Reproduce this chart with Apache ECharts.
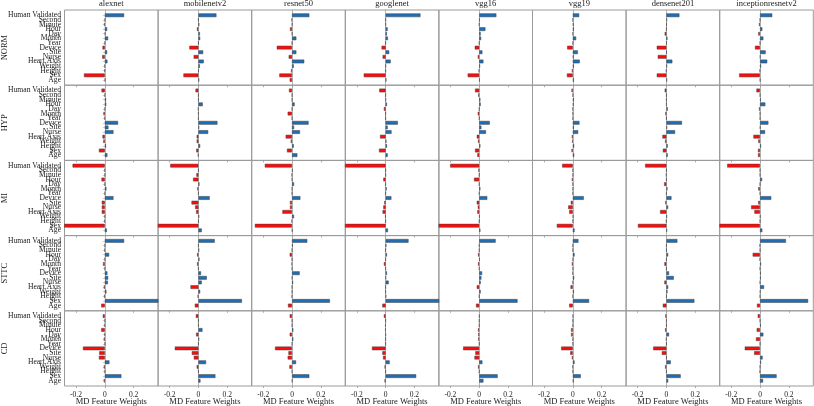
<!DOCTYPE html>
<html>
<head>
<meta charset="utf-8">
<script src="https://cdn.jsdelivr.net/npm/echarts@6/dist/echarts.min.js"></script>
<style>
	html, body { margin: 0; padding: 0; background: #fff; }
	#chart { width: 814px; height: 406px; }
</style>
</head>
<body>
<div id="chart"></div>
<script>
// feature names, top to bottom
const features = ['Human Validated', 'Second', 'Minute', 'Hour', 'Day', 'Month', 'Year', 'Device', 'Site', 'Nurse', 'Heart Axis', 'Weight', 'Height', 'Sex', 'Age'];
const models = ['alexnet', 'mobilenetv2', 'resnet50', 'googlenet', 'vgg16', 'vgg19', 'densenet201', 'inceptionresnetv2'];
const classes = ['NORM', 'HYP', 'MI', 'STTC', 'CD'];
const tickValues = [-0.2, 0, 0.2];

// one array per model, in the order of "models"
const normWeights = [
	[0.134, 0.001, -0.005, 0.016, 0.003, 0.023, 0, -0.016, 0.016, -0.018, 0.018, -0.002, -0.003, -0.145, 0.002],
	[0.125, 0, 0.006, -0.010, 0.010, 0.012, 0, -0.063, 0.033, -0.033, 0.037, 0.010, 0.001, -0.104, 0.005],
	[0.120, -0.003, 0.001, -0.014, 0.001, 0.030, 0, -0.106, 0.030, -0.023, 0.085, 0.012, -0.007, -0.088, -0.016],
	[0.242, 0.001, 0.001, 0.014, 0.009, 0.016, 0, -0.028, 0.025, -0.021, 0.035, 0.001, 0, -0.152, 0.005],
	[0.119, 0.003, 0, 0.043, 0.010, 0.013, 0, -0.031, 0.022, -0.010, 0.029, 0.006, -0.003, -0.080, 0.003],
	[0.044, 0, 0.005, 0.007, 0, 0.023, 0, -0.039, 0.035, 0.005, 0.048, 0.007, -0.007, -0.041, 0.007],
	[0.090, 0.004, 0.001, 0, -0.012, 0.007, 0, -0.067, 0.001, -0.060, 0.041, 0.004, -0.002, -0.067, 0.004],
	[0.085, 0, -0.007, 0.016, -0.012, 0.023, 0, -0.035, 0.039, 0.002, 0.050, 0.007, -0.002, -0.145, 0.001]
];
const hypWeights = [
	[-0.023, 0, 0.008, 0.010, 0, -0.009, -0.002, 0.092, 0.025, 0.060, -0.016, -0.010, 0.008, -0.041, 0.018],
	[-0.020, 0, 0, 0.030, -0.002, 0, 0, 0.132, 0.005, 0.068, -0.012, -0.012, 0.012, -0.015, -0.003],
	[-0.021, 0, 0, 0.018, 0, -0.030, 0, 0.115, 0.014, 0.055, -0.044, -0.009, 0.012, -0.035, 0.037],
	[-0.044, 0, 0.001, 0.009, -0.012, 0, 0, 0.085, 0.014, 0.041, -0.039, 0.005, 0.009, -0.046, 0.014],
	[-0.029, -0.006, 0.008, 0.010, 0, -0.010, 0, 0.073, 0.015, 0.047, -0.017, -0.008, 0.008, -0.029, -0.013],
	[-0.009, 0, 0.007, 0.005, 0, 0, 0, 0.046, 0.007, 0.037, -0.007, -0.005, 0.009, -0.009, 0.009],
	[-0.012, 0, 0, 0, 0.009, -0.007, 0, 0.108, 0.004, 0.060, -0.028, -0.009, 0.009, -0.025, 0.009],
	[-0.025, 0, 0.005, 0.037, -0.007, 0, 0, 0.058, 0.002, 0.035, -0.046, -0.012, 0.007, -0.014, -0.014]
];
const miWeights = [
	[-0.224, -0.002, 0, -0.023, 0, 0.011, 0, 0.060, -0.021, -0.021, -0.021, 0, -0.003, -0.300, 0.014],
	[-0.196, 0, -0.014, -0.037, 0.007, -0.007, 0, 0.078, -0.048, -0.023, -0.016, 0.005, 0, -0.300, 0.023],
	[-0.189, 0.004, -0.002, 0, 0.014, 0, 0, 0.058, -0.014, -0.014, -0.067, 0.014, -0.003, -0.258, 0.002],
	[-0.300, 0, 0, -0.016, 0, 0.007, 0, 0.040, -0.009, -0.016, -0.021, -0.002, 0, -0.300, 0.016],
	[-0.202, -0.005, 0, -0.036, 0, 0.008, 0, 0.056, -0.017, -0.010, -0.013, 0.003, 0, -0.300, 0.008],
	[-0.074, 0, 0, -0.007, 0, 0, 0, 0.076, -0.014, -0.032, -0.025, 0.002, 0, -0.111, 0.012],
	[-0.148, 0, -0.002, 0, -0.016, 0.007, 0, 0.035, -0.007, 0.012, -0.044, 0.004, -0.002, -0.198, 0.004],
	[-0.228, 0, 0, 0.014, 0, -0.012, 0, 0.078, -0.012, -0.062, -0.039, 0.002, 0, -0.300, 0.016]
];
const sttcWeights = [
	[0.134, 0, -0.002, 0.030, 0, -0.012, 0, 0.018, 0.023, 0.021, -0.007, 0.011, -0.005, 0.400, -0.025],
	[0.113, 0, 0.005, -0.009, 0.007, -0.009, 0, 0.018, 0.058, 0.023, -0.055, 0.012, -0.005, 0.302, -0.025],
	[0.106, 0.005, 0, -0.016, 0, -0.003, 0, 0.053, 0.001, 0.007, 0, 0, -0.002, 0.263, -0.028],
	[0.159, 0.005, 0, 0.009, 0, -0.012, 0, 0.009, 0.002, 0.021, 0, 0, 0.004, 0.400, -0.023],
	[0.114, 0, 0, -0.008, 0.003, -0.008, 0, 0.020, 0.015, 0.010, -0.017, 0.010, 0, 0.266, -0.022],
	[0.039, 0, 0, 0.012, 0, -0.007, 0, -0.002, 0.009, 0, -0.016, 0.007, 0, 0.113, -0.025],
	[0.076, 0, 0, 0.012, 0, -0.014, 0, 0.018, 0.051, -0.014, 0.012, 0.007, 0, 0.194, -0.025],
	[0.180, -0.002, 0, -0.051, -0.002, 0.007, 0, 0.005, 0.005, 0, 0.028, 0.002, 0, 0.334, -0.021]
];
const cdWeights = [
	[-0.014, 0, -0.002, -0.025, -0.002, -0.007, 0, -0.152, -0.039, -0.041, 0.032, -0.007, 0, 0.115, -0.007],
	[-0.018, 0, 0, 0.028, -0.016, 0.005, 0, -0.164, -0.046, -0.032, 0.053, -0.012, 0, 0.118, 0.014],
	[-0.016, 0, 0, 0.009, -0.016, 0.009, 0, -0.118, -0.025, -0.030, 0.028, -0.018, 0, 0.120, 0.002],
	[-0.012, 0, -0.002, -0.002, 0, 0, 0, -0.095, -0.023, -0.018, 0.028, -0.007, 0, 0.212, -0.007],
	[0.001, 0, 0, -0.008, -0.006, -0.006, 0, -0.112, -0.027, -0.033, 0.022, -0.008, 0, 0.128, 0.029],
	[0.001, 0, 0, -0.012, -0.012, 0, 0, -0.081, -0.018, -0.007, 0.012, -0.002, 0, 0.055, 0.005],
	[-0.007, 0, 0, -0.009, 0.018, -0.002, 0, -0.092, -0.032, 0, 0.030, -0.009, 0, 0.099, 0.012],
	[-0.016, 0, 0.005, -0.023, 0.023, -0.028, 0, -0.106, -0.041, 0.018, 0.007, 0, -0.002, 0.115, 0.021]
];
const weights = [normWeights, hypWeights, miWeights, sttcWeights, cdWeights];

const xMin = -0.28;
const xMax = 0.37;
const font = 'Liberation Serif';
const posColor = '#1f6db3';
const negColor = '#ff0a0a';

// cell layout (px)
const left0 = 64.5;
const cellW = 93.6;
const top0 = 10;
const cellH = 75.2;
// matplotlib-like y margin: categories fill cellH * 15 / 16.28
const bandPad = cellH * (1.14 - 0.5) / 16.28;

const grid = [];
const xAxis = [];
const yAxis = [];
const series = [];
const graphic = [];

classes.forEach((cls, r) => {
	models.forEach((model, c) => {
		const k = r * models.length + c;
		const outer = 2 * k;
		const inner = 2 * k + 1;
		const x = left0 + c * cellW;
		const y = top0 + r * cellH;
		const isBottom = r === classes.length - 1;
		const isLeft = c === 0;

		// frame + ticks + zero line
		grid.push({
			left: x, top: y, width: cellW, height: cellH, outerBoundsMode: 'none',
			show: true, borderColor: '#9a9a9a', borderWidth: 1, backgroundColor: 'transparent'
		});
		xAxis.push({
			type: 'value', gridIndex: outer, min: xMin, max: xMax, position: 'bottom',
			axisLine: { show: false, onZero: false },
			axisTick: { show: true, customValues: tickValues, length: 2, lineStyle: { color: '#999', width: 0.8 } },
			axisLabel: {
				show: isBottom, customValues: tickValues, fontSize: 7.5, margin: 5, color: '#222', fontFamily: font,
				formatter: (v) => (v === 0 ? '0' : v.toFixed(1))
			},
			splitLine: { show: false },
			name: isBottom ? 'MD Feature Weights' : '',
			nameLocation: 'middle', nameGap: 11, nameMoveOverlap: false,
			nameTextStyle: { fontSize: 8.5, color: '#222', fontFamily: font }
		});
		yAxis.push({
			type: 'value', gridIndex: outer, min: 0, max: 1,
			axisLine: { show: true, onZero: true, lineStyle: { color: '#999', width: 0.7 } },
			axisTick: { show: false }, axisLabel: { show: false }, splitLine: { show: false }
		});

		// bars
		grid.push({ left: x, top: y + bandPad, width: cellW, height: cellH - 2 * bandPad, outerBoundsMode: 'none' });
		xAxis.push({ type: 'value', gridIndex: inner, min: xMin, max: xMax, show: false });
		yAxis.push({
			type: 'category', gridIndex: inner, data: features, inverse: true,
			axisLine: { show: false },
			axisTick: { show: isLeft, alignWithLabel: true, length: 2, lineStyle: { color: '#aaa', width: 0.6 } },
			axisLabel: { show: isLeft, interval: 0, fontSize: 7.6, margin: 3.5, color: '#222', fontFamily: font },
			splitLine: { show: false },
			name: isLeft ? cls : '', nameLocation: 'middle', nameRotate: 90, nameGap: 55, nameMoveOverlap: false,
			nameTextStyle: { fontSize: 8.5, color: '#222', fontFamily: font }
		});
		series.push({
			type: 'bar', xAxisIndex: inner, yAxisIndex: inner,
			data: weights[r][c], barWidth: '80%', silent: true,
			itemStyle: {
				color: (p) => (p.value < 0 ? negColor : posColor),
				borderColor: '#444', borderWidth: 0.5
			}
		});

		if (r === 0) {
			graphic.push({
				type: 'text', x: x + cellW / 2, y: 3.5,
				style: { text: model, fill: '#222', font: `8.5px "${font}"`, textAlign: 'center', textVerticalAlign: 'middle' }
			});
		}
	});
});

const chart = echarts.init(document.getElementById('chart'), null, { renderer: 'canvas' });
chart.setOption({
	animation: false,
	textStyle: { fontFamily: font },
	grid,
	xAxis,
	yAxis,
	series,
	graphic
});
</script>
</body>
</html>
